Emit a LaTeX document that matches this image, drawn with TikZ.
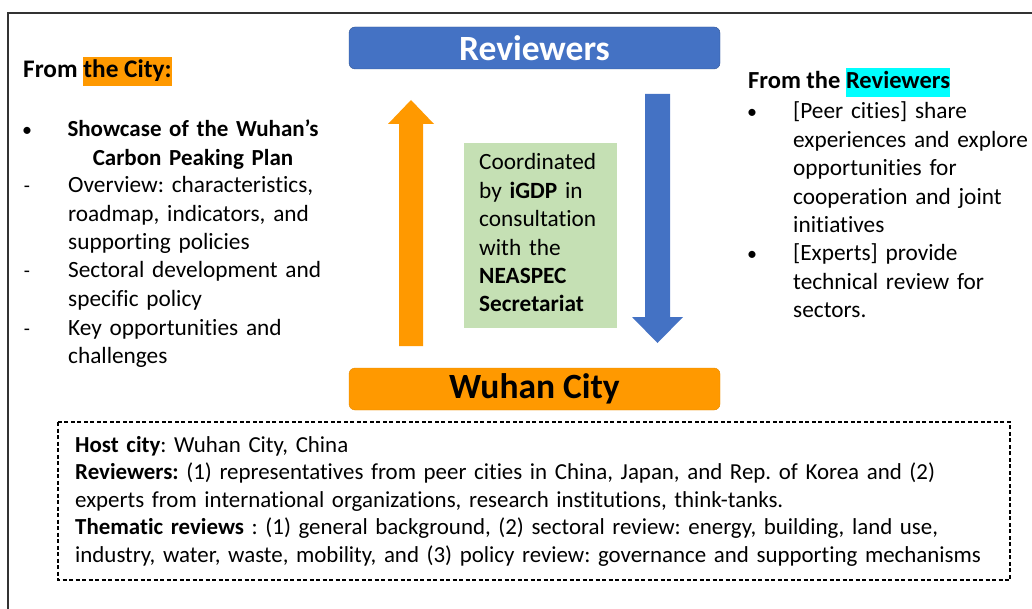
\documentclass[tikz,border=0pt]{standalone}
\usepackage{fontspec}
\setmainfont{Carlito}[Ligatures=NoCommon]
\frenchspacing
\definecolor{revblue}{HTML}{4472C4}
\definecolor{cityorange}{HTML}{FF9900}
\definecolor{coordgreen}{HTML}{C5E0B4}
\definecolor{hlcyan}{HTML}{00FFFF}
\newcommand{\hlbox}[2]{{\setlength{\fboxsep}{0pt}\colorbox{#1}{\rule[-8pt]{0pt}{29pt}#2}}}
\tikzset{
  txt/.style={inner sep=0pt, anchor=base west, align=left,
    font=\fontsize{23.3}{28.4}\selectfont},
  head/.style={txt, font=\fontsize{24.5}{28.4}\selectfont\bfseries},
  banner/.style={rounded corners=6pt, minimum width=371pt, minimum height=42pt,
    inner sep=0pt, font=\fontsize{35.5}{38}\selectfont\bfseries},
  bulletmark/.style={inner sep=0pt, anchor=base, font=\fontsize{20}{28.4}\selectfont},
}
\begin{document}
\begin{tikzpicture}[x=1pt,y=-1pt]
  \useasboundingbox (0,0) rectangle (1032,609);
  \draw[line width=1.6pt,black!80] (8,13) rectangle (1050,630);
  % the two banners
  \node[banner,fill=revblue,draw=revblue!75!black,text=white] (reviewers) at (534.5,48) {Reviewers};
  \node[banner,fill=cityorange,draw=cityorange!90!black] (wuhan) at (534.5,389) {Wuhan City};
  % block arrows
  \fill[cityorange] (399,346) -- (399,124) -- (388,124) -- (411,100)
    -- (434,124) -- (423,124) -- (423,346) -- cycle;
  \fill[revblue] (645,94) -- (645,317) -- (632,317) -- (657.5,343)
    -- (683,317) -- (670,317) -- (670,94) -- cycle;
  % coordination box
  \node[fill=coordgreen,minimum width=153pt,minimum height=185pt,inner sep=0pt] (coordbox) at (540.5,235.5) {};
  \node[txt,text width=135pt] (coordtext) at (479,170)
    {Coordinated\\by \textbf{iGDP} in\\consultation\\with the\\\textbf{NEASPEC}\\\textbf{Secretariat}};
  % left column: from the city
  \node[head,font=\fontsize{25.3}{28.4}\selectfont\bfseries] (cityhead) at (23,78) {From \hlbox{cityorange}{the City:}};
  \node[bulletmark] (citydot) at (27,137) {\textbullet};
  \node[txt,anchor=base,align=center,text width=280pt,font=\fontsize{23}{28.4}\selectfont\bfseries] (showcase) at (193,137)
    {Showcase of the Wuhan’s\\Carbon Peaking Plan};
  \foreach \y in {193,278,335}
    \node[bulletmark] (dash\y) at (27,\y) {-};
  \node[txt,text width=270pt] (overview) at (68,193) {Overview: characteristics,\\roadmap, indicators, and\\supporting policies};
  \node[txt,text width=270pt] (sectoral) at (68,278) {Sectoral development and\\specific policy};
  \node[txt,text width=270pt] (keyopp) at (68,335) {Key opportunities and\\challenges};
  % right column: from the reviewers
  \node[head] (revhead) at (748,89) {From the \hlbox{hlcyan}{Reviewers}};
  \foreach \y in {119,261}
    \node[bulletmark] (revdot\y) at (752,\y) {\textbullet};
  \node[txt,text width=250pt] (peer) at (793,119)
    {[Peer cities] share\\experiences and explore\\opportunities for\\cooperation and joint\\initiatives};
  \node[txt,text width=250pt] (experts) at (793,261) {[Experts] provide\\technical review for\\sectors.};
  % summary box
  \draw[line width=1.2pt,dash pattern=on 4pt off 2.5pt] (58,422) rectangle (1010,580);
  \node[txt,text width=940pt,font=\fontsize{22.9}{27.6}\selectfont] (info) at (75,452)
    {\textbf{Host city}: Wuhan City, China\\
     \textbf{Reviewers:} (1) representatives from peer cities in China, Japan, and Rep. of Korea and (2)\\
     experts from international organizations, research institutions, think-tanks.\\
     \textbf{Thematic reviews} : (1) general background, (2) sectoral review: energy, building, land use,\\
     industry, water, waste, mobility, and (3) policy review: governance and supporting mechanisms};
\end{tikzpicture}
\end{document}
